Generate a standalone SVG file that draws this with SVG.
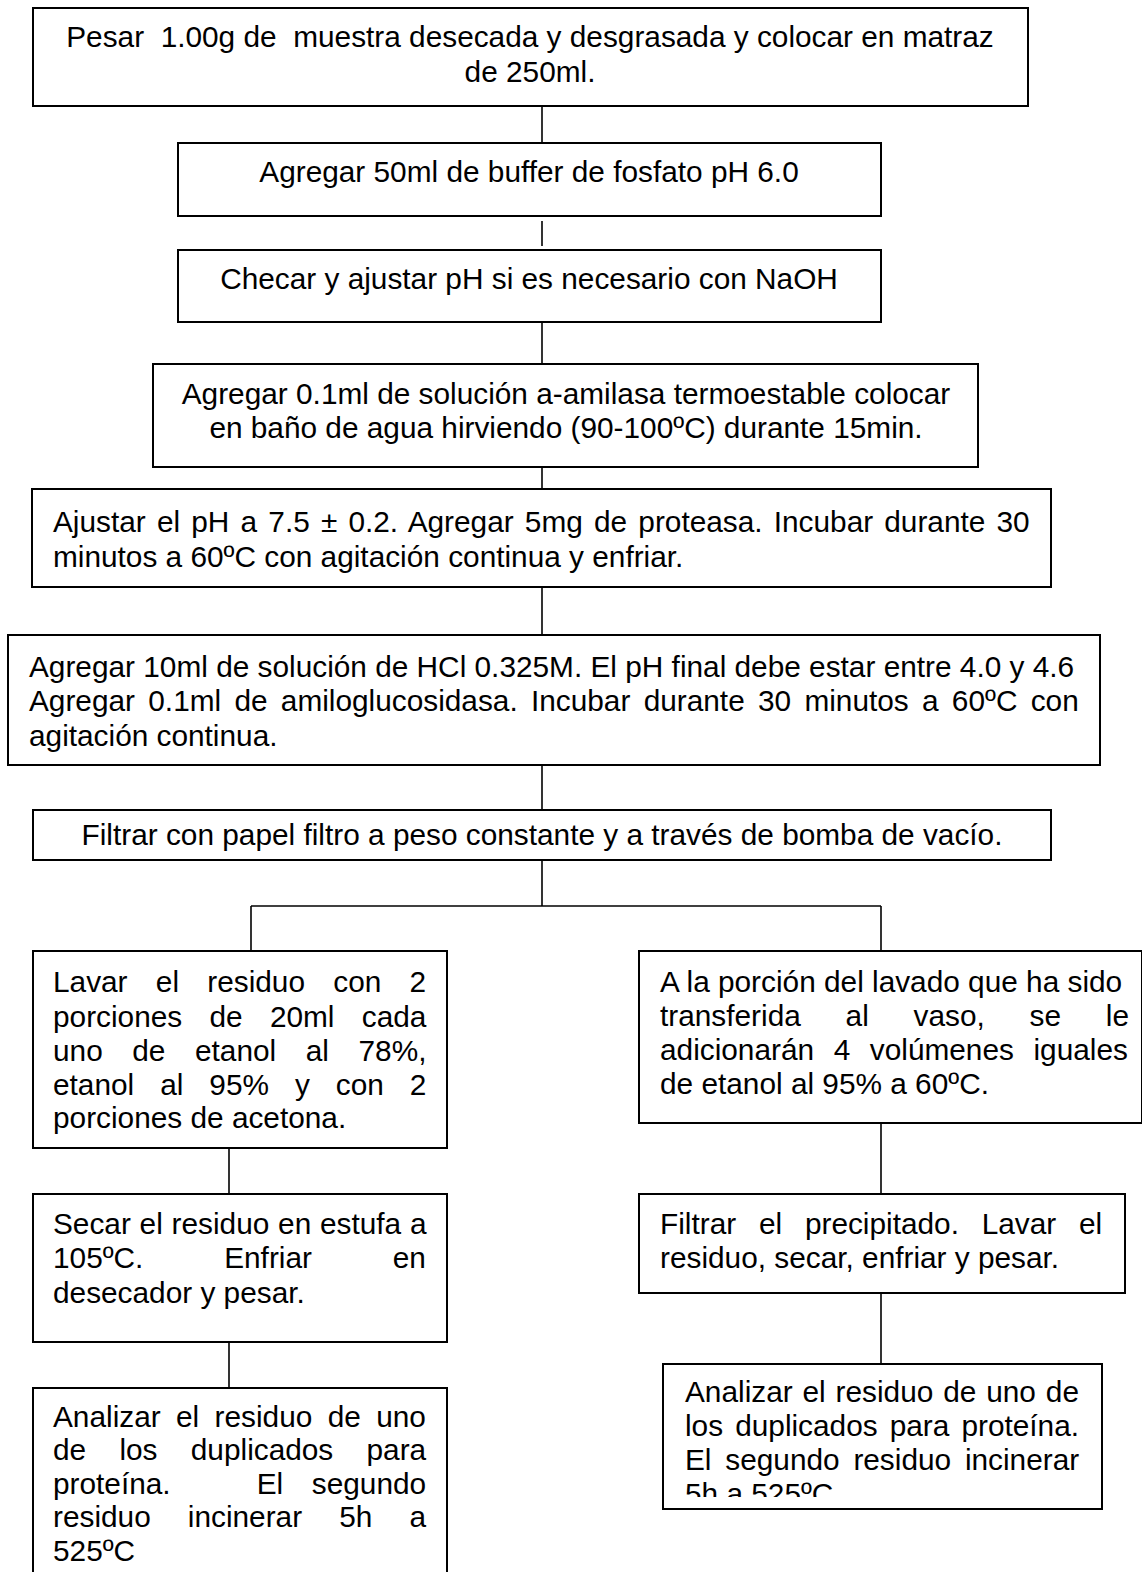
<svg xmlns="http://www.w3.org/2000/svg" width="1142" height="1572" viewBox="0 0 1142 1572">
<style>
.box{fill:#fff;stroke:#000;stroke-width:2}
.ln{stroke:#000;stroke-width:1.6;fill:none}
.t{font-family:"Liberation Sans",Arial,sans-serif;font-size:29.8px;fill:#000;white-space:pre}
.c{text-anchor:middle}
</style>
<defs>
<clipPath id="clipR10"><rect x="663" y="1364" width="440" height="133"/></clipPath>
</defs>
<rect width="1142" height="1572" fill="#fff"/>
<g id="connectors">
<line class="ln" x1="542" y1="106" x2="542" y2="143"/>
<line class="ln" x1="542" y1="221" x2="542" y2="246"/>
<line class="ln" x1="542" y1="322" x2="542" y2="364"/>
<line class="ln" x1="542" y1="460" x2="542" y2="489"/>
<line class="ln" x1="542" y1="587" x2="542" y2="642"/>
<line class="ln" x1="542" y1="760" x2="542" y2="810"/>
<line class="ln" x1="542" y1="858" x2="542" y2="906"/>
<line class="ln" x1="251" y1="906" x2="881" y2="906"/>
<line class="ln" x1="251" y1="906" x2="251" y2="951"/>
<line class="ln" x1="881" y1="906" x2="881" y2="951"/>
<line class="ln" x1="229" y1="1148" x2="229" y2="1194"/>
<line class="ln" x1="881" y1="1123" x2="881" y2="1194"/>
<line class="ln" x1="229" y1="1342" x2="229" y2="1388"/>
<line class="ln" x1="881" y1="1293" x2="881" y2="1364"/>
</g>
<g id="n1">
<rect class="box" x="33" y="8" width="995" height="98"/>
<text class="t c" x="530" y="47" xml:space="preserve">Pesar  1.00g de  muestra desecada y desgrasada y colocar en matraz</text>
<text class="t c" x="530" y="82">de 250ml.</text>
</g>
<g id="n2">
<rect class="box" x="178" y="143" width="703" height="73"/>
<text class="t c" x="529" y="182">Agregar 50ml de buffer de fosfato pH 6.0</text>
</g>
<g id="n3">
<rect class="box" x="178" y="250" width="703" height="72"/>
<text class="t c" x="529" y="289">Checar y ajustar pH si es necesario con NaOH</text>
</g>
<g id="n4">
<rect class="box" x="153" y="364" width="825" height="103"/>
<text class="t c" x="566" y="404">Agregar 0.1ml de solución a-amilasa termoestable colocar</text>
<text class="t c" x="566" y="438">en baño de agua hirviendo (90-100ºC) durante 15min.</text>
</g>
<g id="n5">
<rect class="box" x="32" y="489" width="1019" height="98"/>
<text class="t" x="53" y="532" style="word-spacing:2.9px">Ajustar el pH a 7.5 ± 0.2. Agregar 5mg de proteasa. Incubar durante 30</text>
<text class="t" x="53" y="567">minutos a 60ºC con agitación continua y enfriar.</text>
</g>
<g id="n6">
<rect class="box" x="8" y="635" width="1092" height="130"/>
<text class="t" x="29" y="677">Agregar 10ml de solución de HCl 0.325M. El pH final debe estar entre 4.0 y 4.6</text>
<text class="t" x="29" y="711" style="word-spacing:5px">Agregar 0.1ml de amiloglucosidasa. Incubar durante 30 minutos a 60ºC con</text>
<text class="t" x="29" y="746">agitación continua.</text>
</g>
<g id="n7">
<rect class="box" x="33" y="810" width="1018" height="50"/>
<text class="t c" x="542" y="845">Filtrar con papel filtro a peso constante y a través de bomba de vacío.</text>
</g>
<g id="n8">
<rect class="box" x="33" y="951" width="414" height="197"/>
<text class="t" x="53" y="992" style="word-spacing:20px">Lavar el residuo con 2</text>
<text class="t" x="53" y="1027" style="word-spacing:19px">porciones de 20ml cada</text>
<text class="t" x="53" y="1061" style="word-spacing:21.3px">uno de etanol al 78%,</text>
<text class="t" x="53" y="1095" style="word-spacing:17.7px">etanol al 95% y con 2</text>
<text class="t" x="53" y="1128">porciones de acetona.</text>
</g>
<g id="n9">
<rect class="box" x="639" y="951" width="503" height="172"/>
<text class="t" x="660" y="992">A la porción del lavado que ha sido</text>
<text class="t" x="660" y="1026" style="word-spacing:36.5px">transferida al vaso, se le</text>
<text class="t" x="660" y="1060" style="word-spacing:11.3px">adicionarán 4 volúmenes iguales</text>
<text class="t" x="660" y="1094">de etanol al 95% a 60ºC.</text>
</g>
<g id="n10">
<rect class="box" x="33" y="1194" width="414" height="148"/>
<text class="t" x="53" y="1234" style="word-spacing:0.5px">Secar el residuo en estufa a</text>
<text class="t" x="53" y="1268" style="word-spacing:72.5px">105ºC. Enfriar en</text>
<text class="t" x="53" y="1303">desecador y pesar.</text>
</g>
<g id="n11">
<rect class="box" x="639" y="1194" width="486" height="99"/>
<text class="t" x="660" y="1234" style="word-spacing:14.5px">Filtrar el precipitado. Lavar el</text>
<text class="t" x="660" y="1268">residuo, secar, enfriar y pesar.</text>
</g>
<g id="n12">
<rect class="box" x="33" y="1388" width="414" height="200"/>
<text class="t" x="53" y="1427" style="word-spacing:7.1px">Analizar el residuo de uno</text>
<text class="t" x="53" y="1460" style="word-spacing:25px">de los duplicados para</text>
<text class="t" x="53" y="1494" style="word-spacing:20.4px" xml:space="preserve">proteína.   El segundo</text>
<text class="t" x="53" y="1527" style="word-spacing:28.8px">residuo incinerar 5h a</text>
<text class="t" x="53" y="1561">525ºC</text>
</g>
<g id="n13">
<rect class="box" x="663" y="1364" width="439" height="145"/>
<g clip-path="url(#clipR10)">
<text class="t" x="685" y="1402" style="word-spacing:1.6px">Analizar el residuo de uno de</text>
<text class="t" x="685" y="1436" style="word-spacing:3.8px">los duplicados para proteína.</text>
<text class="t" x="685" y="1470" style="word-spacing:5.5px">El segundo residuo incinerar</text>
<text class="t" x="685" y="1504">5h a 525ºC.</text>
</g>
</g>
</svg>
